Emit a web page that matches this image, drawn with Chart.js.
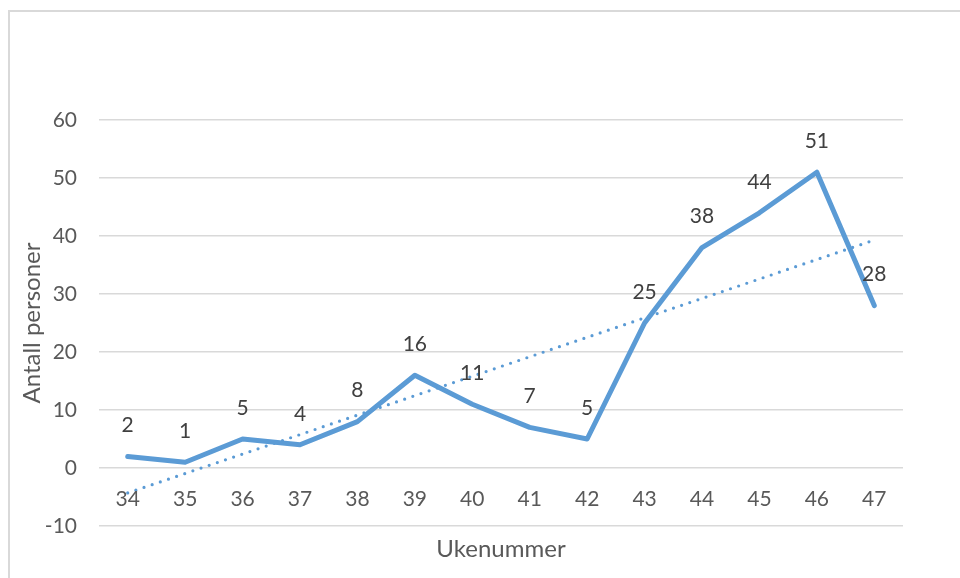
<!DOCTYPE html>
<html>
<head>
<meta charset="utf-8">
<script src="https://cdn.jsdelivr.net/npm/chart.js@4"></script>
<style>
  html, body { margin: 0; padding: 0; background: #fff; overflow: hidden; }
  #frame { position: absolute; left: 8px; top: 10px; width: 1000px; height: 1000px; border: 2px solid #d9d9d9; }
  #chart { position: absolute; left: 0; top: 0; }
</style>
</head>
<body>
<div id="frame"></div>
<canvas id="chart" width="960" height="578"></canvas>
<script>
// Ukenummer vs antall personer
const weeks = ["34", "35", "36", "37", "38", "39", "40", "41", "42", "43", "44", "45", "46", "47"];
const persons = [2, 1, 5, 4, 8, 16, 11, 7, 5, 25, 38, 44, 51, 28];
// trendline ends (week 34 and week 47)
const trendValues = [-4.3, null, null, null, null, null, null, null, null, null, null, null, null, 39.3];
const yTicks = [-10, 0, 10, 20, 30, 40, 50, 60];

const blue = "#5B9BD5";
const font = "Lato, 'Open Sans', sans-serif";

// draws the value above each point of the main series
const pointLabels = {
  id: "pointLabels",
  afterDatasetsDraw(chart) {
    const ctx = chart.ctx;
    const meta = chart.getDatasetMeta(0);
    ctx.save();
    ctx.font = "21px " + font;
    ctx.fillStyle = "#404040";
    ctx.textAlign = "center";
    ctx.textBaseline = "middle";
    meta.data.forEach((pt, i) => {
      ctx.fillText(String(persons[i]), pt.x, pt.y - 31);
    });
    ctx.restore();
  }
};

// category labels sit just under the zero line, like Excel does
const weekLabels = {
  id: "weekLabels",
  afterDraw(chart) {
    const ctx = chart.ctx;
    const x = chart.scales.x;
    const y0 = chart.scales.y.getPixelForValue(0);
    ctx.save();
    ctx.font = "21px " + font;
    ctx.fillStyle = "#595959";
    ctx.textAlign = "center";
    ctx.textBaseline = "middle";
    weeks.forEach((w, i) => {
      ctx.fillText(w, x.getPixelForValue(i), y0 + 31);
    });
    ctx.restore();
  }
};

const ctx = document.getElementById("chart").getContext("2d");
new Chart(ctx, {
  type: "line",
  data: {
    labels: weeks,
    datasets: [
      {
        label: "Antall personer",
        data: persons,
        borderColor: blue,
        borderWidth: 5,
        borderCapStyle: "round",
        borderJoinStyle: "round",
        pointRadius: 0,
        tension: 0,
        order: 1
      },
      {
        label: "Lineær trend",
        data: trendValues,
        spanGaps: true,
        borderColor: blue,
        borderWidth: 3.2,
        borderDash: [0, 8.6],
        borderCapStyle: "round",
        pointRadius: 0,
        tension: 0,
        order: 2
      }
    ]
  },
  options: {
    responsive: false,
    animation: false,
    layout: { padding: { top: 120, right: 57, bottom: 0, left: 0 } },
    plugins: {
      legend: { display: false },
      tooltip: { enabled: false }
    },
    scales: {
      x: {
        offset: true,
        grid: { display: false },
        border: { display: false },
        ticks: { display: false },
        title: {
          display: true,
          text: "Ukenummer",
          color: "#595959",
          font: { family: font, size: 24 },
          padding: { top: 14, bottom: 14 }
        },
        afterFit(scale) { scale.height = 52; }
      },
      y: {
        min: yTicks[0],
        max: yTicks[yTicks.length - 1],
        afterBuildTicks(scale) { scale.ticks = yTicks.map(v => ({ value: v })); },
        grid: { color: "#d9d9d9", lineWidth: 1.5, drawTicks: false },
        border: { display: false },
        ticks: {
          color: "#595959",
          font: { family: font, size: 21 },
          padding: 22
        },
        title: {
          display: true,
          text: "Antall personer",
          color: "#595959",
          font: { family: font, size: 24 },
          padding: { top: 18, bottom: 0 }
        },
        afterFit(scale) { scale.width = 99; }
      }
    }
  },
  plugins: [pointLabels, weekLabels]
});
</script>
</body>
</html>
